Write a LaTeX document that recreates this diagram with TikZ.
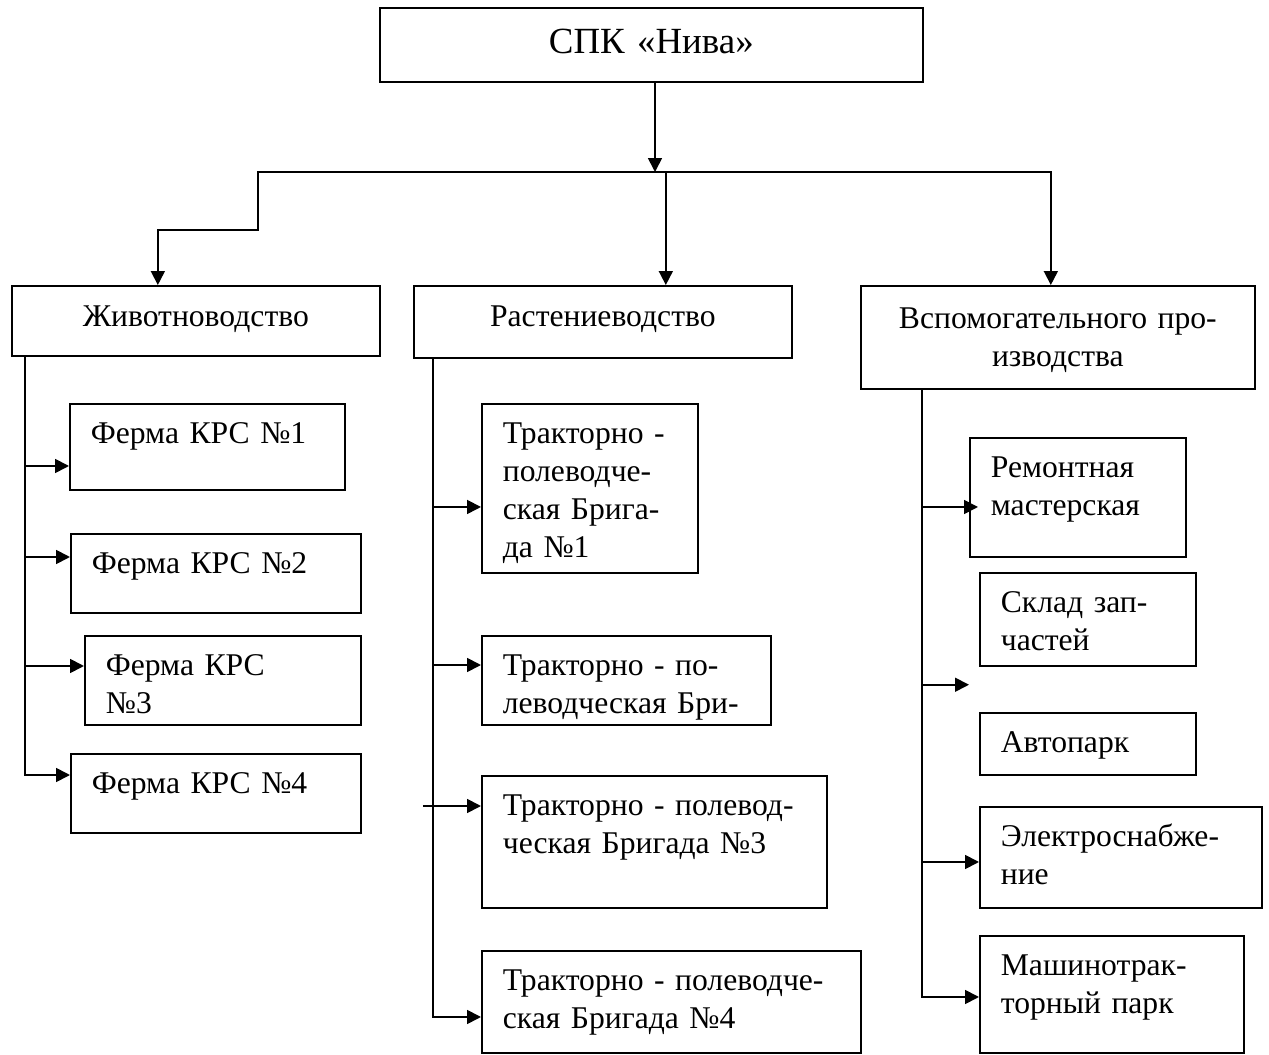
\documentclass[tikz,border=0pt]{standalone}
\usepackage{fontspec}
\setmainfont{Liberation Serif}
\usepackage{tikz}
\usetikzlibrary{arrows.meta, positioning, calc}

\begin{document}
\begin{tikzpicture}[x=0.02cm, y=-0.02cm, line width=1pt,
        arr/.style={-{Triangle[length=0.28cm,width=0.28cm]}},
        dept/.style={draw, anchor=north west, inner xsep=0.42cm, inner ysep=0pt,
            align=center, text height=0.82cm, font=\fontsize{18pt}{21.6pt}\selectfont},
        subunit/.style={dept, align=left, text height=0.8cm}]

        \useasboundingbox (0,0) rectangle (1269,1055);

        % ==========================================
        % Top level
        % ==========================================
        \node[dept, text width=10.02cm, text height=0.92cm, text depth=0.56cm,
              font=\fontsize{21pt}{25pt}\selectfont] (top) at (379,7) {СПК «Нива»};

        % ==========================================
        % Branches
        % ==========================================
        \node[dept, text width=6.52cm, text depth=0.58cm] (zhiv) at (11,285) {Животноводство};
        \node[dept, text width=6.72cm, text depth=0.62cm] (rast) at (413,285) {Растениеводство};
        \node[dept, text width=7.04cm, text height=0.86cm, text depth=1.2cm] (vsp) at (860,285)
              {Вспомогательного про-\\изводства};

        % Bus from the top box to the branches
        \coordinate (bus) at (655,172);
        \coordinate (stepL) at (258,230);
        \draw[arr] (top.south -| bus) -- (bus);
        \draw[arr] (bus) -| (stepL) -| ([xshift=-0.76cm]zhiv.north);
        \draw[arr] (bus) -| ([xshift=1.26cm]rast.north);
        \draw[arr] (bus) -| ([xshift=-0.14cm]vsp.north);

        % ==========================================
        % Livestock farms
        % ==========================================
        \node[subunit, text width=4.66cm, text depth=0.92cm] (ferma1) at (69,403) {Ферма КРС №1};
        \node[subunit, text width=4.96cm, text depth=0.78cm] (ferma2) at (70,533) {Ферма КРС №2};
        \node[subunit, text width=4.68cm, text depth=0.98cm] (ferma3) at (84,635) {Ферма КРС\\№3};
        \node[subunit, text width=4.96cm, text depth=0.78cm] (ferma4) at (70,753) {Ферма КРС №4};

        \coordinate (zhivstem) at ([xshift=0.28cm]zhiv.south west);
        \coordinate (f1in) at ([yshift=-1.26cm]ferma1.north west);
        \coordinate (f2in) at ([yshift=-0.48cm]ferma2.north west);
        \coordinate (f3in) at ([yshift=-0.62cm]ferma3.north west);
        \coordinate (f4in) at ([yshift=-0.44cm]ferma4.north west);
        \draw[arr] (zhivstem) |- (f4in);
        \draw[arr] (zhivstem |- f1in) -- (f1in);
        \draw[arr] (zhivstem |- f2in) -- (f2in);
        \draw[arr] (zhivstem |- f3in) -- (f3in);

        % ==========================================
        % Field brigades
        % ==========================================
        \node[subunit, text width=3.48cm, text depth=2.58cm] (tpb1) at (481,403)
              {Тракторно -\\полеводче-\\ская Брига-\\да №1};
        \node[subunit, text width=4.94cm, text depth=0.98cm] (tpb2) at (481,635)
              {Тракторно - по-\\леводческая Бри-};
        \node[subunit, text width=6.06cm, text depth=1.84cm] (tpb3) at (481,775)
              {Тракторно - полевод-\\ческая Бригада №3};
        \node[subunit, text width=6.74cm, text depth=1.24cm] (tpb4) at (481,950)
              {Тракторно - полеводче-\\ская Бригада №4};

        \coordinate (raststem) at ([xshift=0.4cm]rast.south west);
        \coordinate (t1in) at ([yshift=-2.08cm]tpb1.north west);
        \coordinate (t2in) at ([yshift=-0.6cm]tpb2.north west);
        \coordinate (t3in) at ([yshift=-0.62cm]tpb3.north west);
        \coordinate (t4in) at ([yshift=-1.34cm]tpb4.north west);
        \draw[arr] (raststem) |- (t4in);
        \draw[arr] (raststem |- t1in) -- (t1in);
        \draw[arr] (raststem |- t2in) -- (t2in);
        \draw[arr] (raststem |- t3in) ++(-10,0) -- (t3in);

        % ==========================================
        % Auxiliary units
        % ==========================================
        \node[subunit, text width=3.48cm, text depth=1.58cm] (rem) at (969,437) {Ремонтная\\мастерская};
        \node[subunit, text width=3.48cm, text depth=1.06cm] (sklad) at (979,572) {Склад зап-\\частей};
        \node[subunit, text width=3.48cm, text depth=0.44cm] (avto) at (979,712) {Автопарк};
        \node[subunit, text width=4.8cm, text depth=1.22cm] (elektro) at (979,806) {Электроснабже-\\ние};
        \node[subunit, text width=4.44cm, text depth=1.54cm] (mtp) at (979,935) {Машинотрак-\\торный парк};

        \coordinate (vspstem) at ([xshift=1.24cm]vsp.south west);
        \coordinate (remin) at ([xshift=0.18cm, yshift=-1.4cm]rem.north west);
        \coordinate (freetip) at ([xshift=-0.2cm, yshift=-0.36cm]sklad.south west);
        \coordinate (elin) at ([yshift=-1.12cm]elektro.north west);
        \coordinate (mtpin) at ([yshift=-1.24cm]mtp.north west);
        \draw[arr] (vspstem) |- (mtpin);
        \draw[arr] (vspstem |- remin) -- (remin);
        \draw[arr] (vspstem |- freetip) -- (freetip);
        \draw[arr] (vspstem |- elin) -- (elin);

\end{tikzpicture}
\end{document}
